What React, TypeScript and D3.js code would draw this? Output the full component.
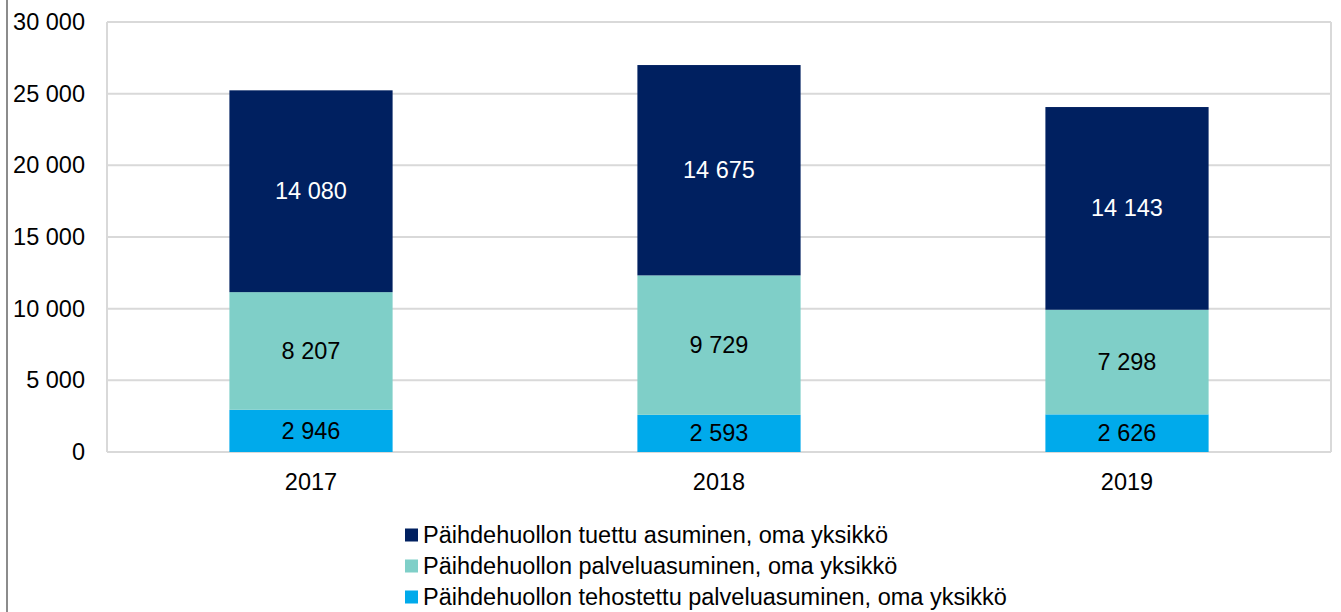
import React from "react";
import * as d3 from "d3";

const categories = ["2017", "2018", "2019"];
const seriesNames = [
  "Päihdehuollon tehostettu palveluasuminen, oma yksikkö",
  "Päihdehuollon palveluasuminen, oma yksikkö",
  "Päihdehuollon tuettu asuminen, oma yksikkö",
];
const tehostettu = [2946, 2593, 2626];
const palvelu = [8207, 9729, 7298];
const tuettu = [14080, 14675, 14143];
const yTicks = [0, 5000, 10000, 15000, 20000, 25000, 30000];

const colors = ["#00aaeb", "#7fcfc8", "#002060"];
const labelColors = ["#000", "#000", "#fff"];

const W = 1341;
const H = 612;
const plot = { left: 107, right: 1331, top: 22, bottom: 452 };
const FONT = "Liberation Sans, Arial, sans-serif";
const FS = 23.5;

const fmt = (v: number) => {
  const s = String(v);
  return s.replace(/\B(?=(\d{3})+(?!\d))/g, "\u00a0");
};

export default function App() {
  const x = d3
    .scaleBand<string>()
    .domain(categories)
    .range([plot.left, plot.right])
    .paddingInner(0.6)
    .paddingOuter(0.3);
  const y = d3.scaleLinear().domain([0, 30000]).range([plot.bottom, plot.top]);

  const rows = categories.map((c, i) => ({
    cat: c,
    tehostettu: tehostettu[i],
    palvelu: palvelu[i],
    tuettu: tuettu[i],
  }));
  const stack = d3.stack<any>().keys(["tehostettu", "palvelu", "tuettu"]);
  const series = stack(rows);

  const legendOrder = [2, 1, 0];

  return (
    <svg
      width={W}
      height={H}
      style={{ position: "absolute", left: 0, top: 0, fontFamily: FONT }}
    >
      <rect x={0} y={0} width={W} height={H} fill="#fff" />
      <line x1={7} x2={7} y1={0} y2={H} stroke="#8c8c8c" strokeWidth={2} />
      {yTicks.map((t) => (
        <g key={t}>
          <line
            x1={plot.left}
            x2={plot.right}
            y1={y(t)}
            y2={y(t)}
            stroke="#d9d9d9"
            strokeWidth={2}
          />
          <text
            x={85}
            y={y(t)}
            textAnchor="end"
            dominantBaseline="central"
            fontSize={FS}
            fill="#000"
          >
            {fmt(t)}
          </text>
        </g>
      ))}
      <line x1={plot.left} x2={plot.left} y1={plot.top} y2={plot.bottom} stroke="#d9d9d9" strokeWidth={2} />
      <line x1={plot.right} x2={plot.right} y1={plot.top} y2={plot.bottom} stroke="#d9d9d9" strokeWidth={2} />
      {series.map((s, si) => (
        <g key={si}>
          {s.map((d, i) => {
            const x0 = x(categories[i])!;
            const y0 = y(d[1]);
            const h = y(d[0]) - y(d[1]);
            return (
              <g key={i}>
                <rect x={x0} y={y0} width={x.bandwidth()} height={h} fill={colors[si]} />
                <text
                  x={x0 + x.bandwidth() / 2}
                  y={y0 + h / 2}
                  textAnchor="middle"
                  dominantBaseline="central"
                  fontSize={FS}
                  fill={labelColors[si]}
                >
                  {fmt(d[1] - d[0])}
                </text>
              </g>
            );
          })}
        </g>
      ))}
      {categories.map((c) => (
        <text
          key={c}
          x={x(c)! + x.bandwidth() / 2}
          y={482}
          textAnchor="middle"
          dominantBaseline="central"
          fontSize={FS}
          fill="#000"
        >
          {c}
        </text>
      ))}
      {legendOrder.map((si, k) => {
        const cy = 535 + k * 31;
        return (
          <g key={si}>
            <rect x={405} y={cy - 6.5} width={13} height={13} fill={colors[si]} />
            <text x={423} y={cy} dominantBaseline="central" fontSize={FS} fill="#000">
              {seriesNames[si]}
            </text>
          </g>
        );
      })}
    </svg>
  );
}
